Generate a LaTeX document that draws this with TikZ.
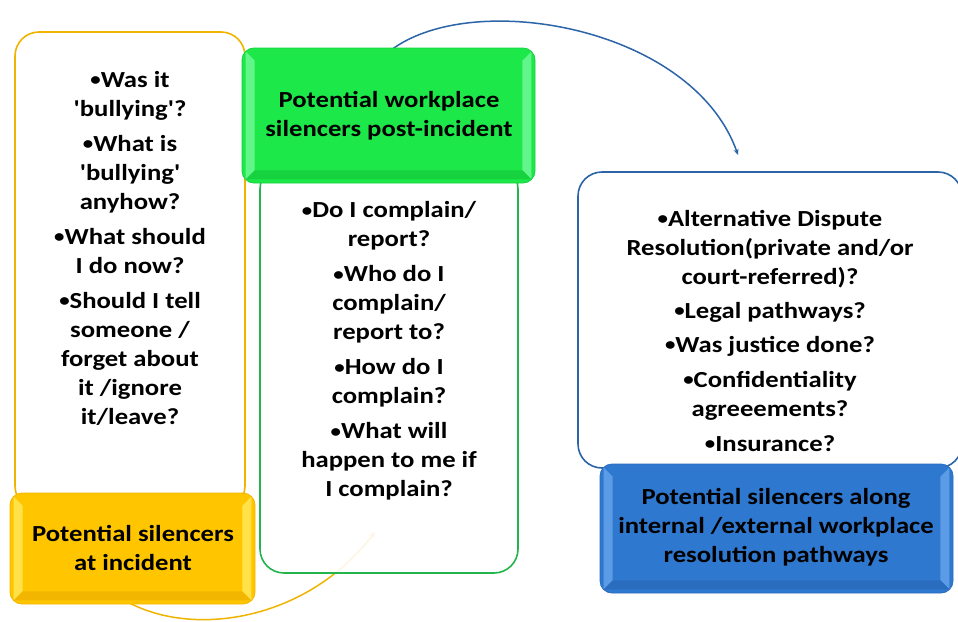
\documentclass[tikz,border=0pt]{standalone}
\usepackage{fontspec}
\setmainfont{Carlito}[Ligatures=TeXOff, FakeStretch=1.16]
\usetikzlibrary{calc,arrows.meta}
\definecolor{yfill}{HTML}{FFC600}
\definecolor{ylight}{HTML}{FFE24A}
\definecolor{ydark}{HTML}{F2B600}
\definecolor{yline}{HTML}{F0B400}
\definecolor{gfill}{HTML}{1CE84A}
\definecolor{glight}{HTML}{62F58A}
\definecolor{gdark}{HTML}{16D23E}
\definecolor{gline}{HTML}{24B44C}
\definecolor{bfill}{HTML}{2F78CF}
\definecolor{blight}{HTML}{5C9CE6}
\definecolor{bdark}{HTML}{2A6CBE}
\definecolor{bline}{HTML}{2C64A8}
\newcommand\mybevel[3]{%
 \fill[#2] ($(#1.north west)+(4,4)$) -- ($(#1.south west)+(4,-4)$) -- ($(#1.south west)+(13,-13)$) -- ($(#1.north west)+(13,13)$) -- cycle;
 \fill[#2] ($(#1.north east)+(-4,4)$) -- ($(#1.south east)+(-4,-4)$) -- ($(#1.south east)+(-13,-13)$) -- ($(#1.north east)+(-13,13)$) -- cycle;
 \fill[#3] ($(#1.south west)+(4,-4)$) -- ($(#1.south east)+(-4,-4)$) -- ($(#1.south east)+(-13,-13)$) -- ($(#1.south west)+(13,-13)$) -- cycle;
}
\newcommand\bul{{\fontsize{18}{29}\selectfont\raisebox{1.2pt}{•}}}
\begin{document}
\begin{tikzpicture}[x=1pt,y=-1pt,
 content/.style={draw, line width=1.6pt, fill=white, rounded corners=24pt, inner sep=0pt},
 titlebox/.style={draw, line width=0.8pt, rounded corners=12pt, inner sep=0pt},
 txt/.style={font=\fontsize{23}{29}\selectfont\bfseries, align=center, inner sep=0pt},
 arc/.style={line width=1.5pt, -{Stealth[length=6pt,width=5pt]}}]
\useasboundingbox (0,0) rectangle (958,621);
\fill[white] (0,0) rectangle (958,621);

% yellow arc (behind)
\coordinate (ystart) at (110,590);
\coordinate (yend) at (375,532);
\draw[arc, yline] (ystart) .. controls (170,640) and (300,630) .. (yend);

% content boxes
\node[content, draw=yline, minimum width=230pt, minimum height=478pt] (ybox) at (130,271) {};
\node[content, draw=gline, fill opacity=0.88, minimum width=258pt, minimum height=408pt] (gbox) at (389,369) {};

% blue arc
\coordinate (bstart) at (380,60);
\coordinate (bend) at (738,155);
\draw[arc, bline] (bstart) .. controls (450,-15) and (690,20) .. (bend);

\node[content, draw=bline, minimum width=384pt, minimum height=296pt] (bbox) at (770,320) {};

% titles
\node[titlebox, draw=ydark, fill=yfill, minimum width=245pt, minimum height=111pt] (ytitle) at (132.5,548.5) {};
\mybevel{ytitle}{ylight}{ydark}
\node[titlebox, draw=gdark, fill=gfill, minimum width=293pt, minimum height=135pt] (gtitle) at (388.5,115.5) {};
\mybevel{gtitle}{glight}{gdark}
\node[titlebox, draw=bdark, fill=bfill, minimum width=353pt, minimum height=129pt] (btitle) at (776.5,528.5) {};
\mybevel{btitle}{blight}{bdark}

% texts
\node[txt] (ytext) at (130,248) {\bul Was it\\'bullying'?\\[6pt]\bul What is\\'bullying'\\anyhow?\\[6pt]\bul What should\\I do now?\\[6pt]\bul Should I tell\\someone /\\forget about\\it /ignore\\it/leave?};
\node[txt] (gtext) at (389,351) {\bul Do I complain/\\report?\\[6pt]\bul Who do I\\complain/\\report to?\\[6pt]\bul How do I\\complain?\\[6pt]\bul What will\\happen to me if\\I complain?};
\node[txt] (btext) at (770,330.5) {\bul Alternative Dispute\\Resolution(private and/or\\court-referred)?\\[5pt]\bul Legal pathways?\\[5pt]\bul Was justice done?\\[6pt]\bul Confidentiality\\agreeements?\\[6pt]\bul Insurance?};
\node[txt] (ytitletext) at (133,547.5) {Potential silencers\\at incident};
\node[txt] (gtitletext) at (389,116) {Potential workplace\\silencers post-incident};
\node[txt] (btitletext) at (776,527) {Potential silencers along\\internal /external workplace\\resolution pathways};
\end{tikzpicture}
\end{document}
